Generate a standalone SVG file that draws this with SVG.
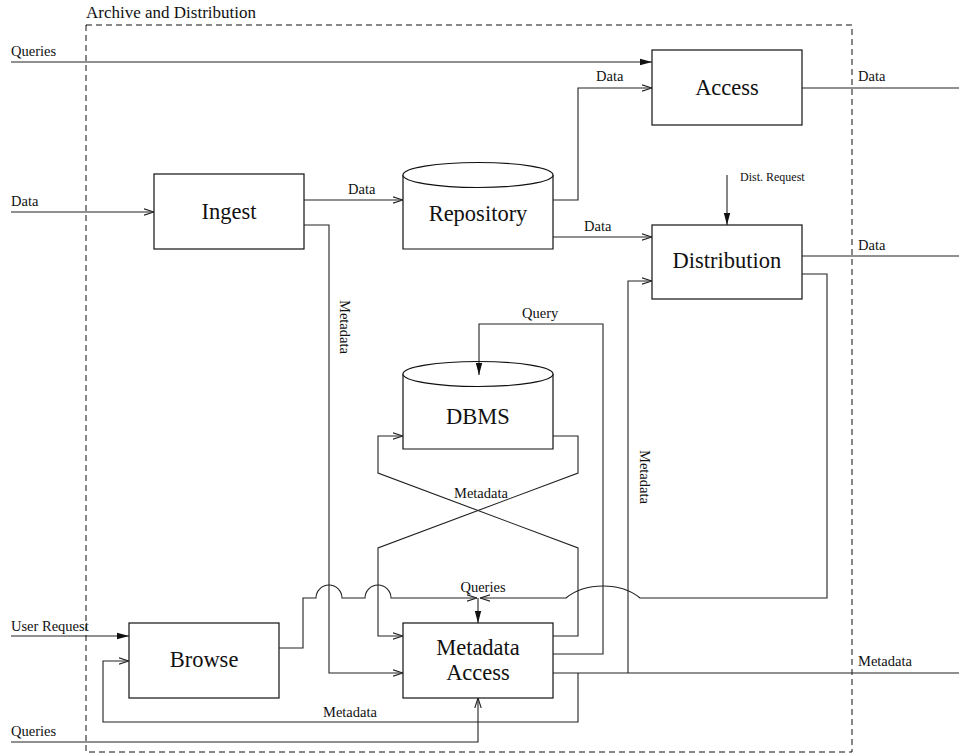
<svg xmlns="http://www.w3.org/2000/svg" width="959" height="755" viewBox="0 0 959 755">
  <style>
    .box { fill: #fff; stroke: #111; stroke-width: 1.2; }
    .wire { fill: none; stroke: #222; stroke-width: 1.1; }
    .open { marker-end: url(#openArrow); }
    .solid { marker-end: url(#solidArrow); }
    .frame { fill: none; stroke: #111; stroke-width: 1; stroke-dasharray: 6 4; }
    .node, .lbl, .small, .title { font-family: "Liberation Serif", "Times New Roman", serif; fill: #111; }
    .node { font-size: 22.5px; text-anchor: middle; }
    .lbl { font-size: 14.5px; }
    .small { font-size: 12px; }
    .title { font-size: 17px; }
  </style>
  <defs>
    <marker id="openArrow" viewBox="0 0 10 8" refX="10" refY="4" markerWidth="10" markerHeight="8" markerUnits="userSpaceOnUse" orient="auto">
      <path d="M0,0.8 L10,4 L0,7.2" fill="none" stroke="#222" stroke-width="1.1"/>
    </marker>
    <marker id="solidArrow" viewBox="0 0 12 8" refX="12" refY="4" markerWidth="12" markerHeight="8" markerUnits="userSpaceOnUse" orient="auto">
      <path d="M0,0.8 L12,4 L0,7.2 Z" fill="#111" stroke="none"/>
    </marker>
  </defs>

  <!-- subsystem boundary -->
  <g id="archive-frame">
    <rect class="frame" x="86" y="25" width="766" height="727"/>
    <text class="title" x="86" y="18">Archive and Distribution</text>
  </g>

  <!-- nodes -->
  <g id="ingest">
    <rect class="box" x="154" y="174" width="150" height="75"/>
    <text class="node" x="229" y="219">Ingest</text>
  </g>
  <g id="repository">
    <path class="box" d="M403,175 V249 H553 V175"/>
    <ellipse class="box" cx="478" cy="175" rx="75" ry="12.5"/>
    <text class="node" x="478" y="221">Repository</text>
  </g>
  <g id="access">
    <rect class="box" x="652" y="50" width="150" height="75"/>
    <text class="node" x="727" y="95">Access</text>
  </g>
  <g id="distribution">
    <rect class="box" x="652" y="225" width="150" height="74"/>
    <text class="node" x="727" y="268">Distribution</text>
  </g>
  <g id="dbms">
    <path class="box" d="M403,374 V449 H553 V374"/>
    <ellipse class="box" cx="478" cy="374" rx="75" ry="12.5"/>
    <text class="node" x="478" y="424">DBMS</text>
  </g>
  <g id="browse">
    <rect class="box" x="129" y="623" width="150" height="75"/>
    <text class="node" x="204" y="667">Browse</text>
  </g>
  <g id="metadata-access">
    <rect class="box" x="403" y="623" width="150" height="75"/>
    <text class="node" x="478" y="655">Metadata</text>
    <text class="node" x="478" y="680">Access</text>
  </g>

  <!-- connectors -->
  <g id="connectors">
    <!-- external inputs -->
    <path class="wire solid" d="M11,62 H652"/>
    <path class="wire open" d="M11,212 H154"/>
    <path class="wire solid" d="M11,636 H129"/>
    <path class="wire open" d="M11,742 H478 V698"/>
    <path class="wire solid" d="M727,175 V225"/>

    <!-- external outputs -->
    <path class="wire" d="M802,88 H959"/>
    <path class="wire" d="M802,256 H959"/>
    <path class="wire" d="M553,673 H959"/>

    <!-- ingest to repository -->
    <path class="wire open" d="M304,200 H403"/>
    <!-- repository to access and distribution -->
    <path class="wire open" d="M553,200 H578 V88 H652"/>
    <path class="wire open" d="M553,237 H652"/>

    <!-- ingest metadata to metadata access -->
    <path class="wire open" d="M304,225 H329 V673 H403"/>

    <!-- metadata to distribution -->
    <path class="wire open" d="M628,673 V281 H652"/>

    <!-- metadata back to browse -->
    <path class="wire open" d="M578,673 V722 H103 V661 H129"/>

    <!-- DBMS exchange with metadata access -->
    <path class="wire open" d="M553,436 H578 V473 L378,548 V636 H403"/>
    <path class="wire open" d="M553,636 H578 V548 L378,473 V436 H403"/>

    <!-- query to DBMS -->
    <path class="wire solid" d="M553,654 H603 V324 H479 V375"/>

    <!-- browse queries, hopping over two verticals -->
    <path class="wire open" d="M279,648 H303 V598 H316 A13,13 0 0 1 342,598 H365 A13,13 0 0 1 391,598 H477"/>
    <!-- distribution queries, hopping over three verticals -->
    <path class="wire open" d="M802,274 H827 V598 H640 C621,582 585,582 566,598 H480"/>
    <path class="wire solid" d="M478,598 V623"/>
  </g>

  <!-- connector labels -->
  <g id="labels">
    <text class="lbl" x="11" y="56">Queries</text>
    <text class="lbl" x="11" y="206">Data</text>
    <text class="lbl" x="11" y="631">User Request</text>
    <text class="lbl" x="11" y="736">Queries</text>
    <text class="lbl" x="348" y="194">Data</text>
    <text class="lbl" x="596" y="81">Data</text>
    <text class="lbl" x="584" y="231">Data</text>
    <text class="lbl" x="858" y="81">Data</text>
    <text class="lbl" x="858" y="250">Data</text>
    <text class="lbl" x="858" y="666">Metadata</text>
    <text class="small" x="740" y="181">Dist. Request</text>
    <text class="lbl" x="522" y="318">Query</text>
    <text class="lbl" x="481" y="498" text-anchor="middle">Metadata</text>
    <text class="lbl" x="483" y="592" text-anchor="middle">Queries</text>
    <text class="lbl" x="350" y="717" text-anchor="middle">Metadata</text>
    <text class="lbl" transform="translate(340,300) rotate(90)">Metadata</text>
    <text class="lbl" transform="translate(640,450) rotate(90)">Metadata</text>
  </g>
</svg>
